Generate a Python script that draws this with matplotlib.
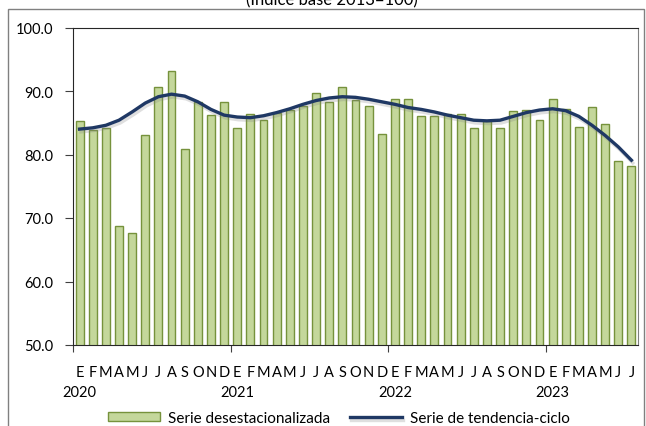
import matplotlib
matplotlib.use("Agg")
import matplotlib.pyplot as plt
import matplotlib.patheffects as pe
from matplotlib.patches import Rectangle

plt.rcParams['font.family'] = ['Lato', 'DejaVu Sans']

meses = ['E', 'F', 'M', 'A', 'M', 'J', 'J', 'A', 'S', 'O', 'N', 'D']
anios = ['2020', '2021', '2022', '2023']

desest = [85.3, 83.8, 84.2, 68.8, 67.7, 83.0, 90.6, 93.2, 80.8, 88.3, 86.2, 88.2,
          84.2, 86.4, 85.4, 86.6, 87.0, 87.7, 89.7, 88.2, 90.6, 88.6, 87.7, 83.2,
          88.8, 88.8, 86.1, 86.1, 86.4, 86.4, 84.2, 85.3, 84.2, 86.9, 87.0, 85.4,
          88.8, 87.2, 84.4, 87.5, 84.8, 79.0, 78.2]

tendencia = [84.0, 84.2, 84.6, 85.4, 86.7, 88.1, 89.1, 89.5, 89.2, 88.3, 87.1, 86.2,
             85.9, 85.8, 86.1, 86.6, 87.2, 87.9, 88.5, 88.9, 89.1, 89.0, 88.7, 88.3,
             87.9, 87.4, 87.1, 86.7, 86.2, 85.8, 85.4, 85.3, 85.4, 86.0, 86.6, 87.0,
             87.2, 86.9, 86.0, 84.6, 83.0, 81.2, 79.1]

n = len(desest)
x = list(range(n))

fig = plt.figure(figsize=(6.46, 4.27), dpi=100)
ax = fig.add_axes([73 / 646, 1 - 346 / 427, 565 / 646, 317.5 / 427])

bars = ax.bar(x, desest, width=0.6, color='#c4d79b', edgecolor='#76923c', linewidth=1,
              label='Serie desestacionalizada', zorder=2)
line, = ax.plot(x, tendencia, color='#1f3864', lw=2.4, solid_joinstyle='round',
                label='Serie de tendencia-ciclo', zorder=3,
                path_effects=[pe.SimpleLineShadow(offset=(1, -2), alpha=0.25, shadow_color='gray'),
                              pe.Normal()])

ax.set_xlim(-0.5, n - 0.5)
ax.set_ylim(50, 100)
ax.set_yticks(range(50, 101, 10))
ax.set_yticklabels([f'{v:.1f}' for v in range(50, 101, 10)])
ax.tick_params(axis='y', length=6, pad=8, labelsize=10.5, color='#404040')

ax.set_xticks([-0.5, 11.5, 23.5, 35.5])
ax.set_xticklabels([])
ax.tick_params(axis='x', length=5, color='#404040')

for s in ['left', 'bottom', 'top']:
    ax.spines[s].set_color('#262626')
ax.spines['right'].set_color('#808080')

for i in x:
    ax.annotate(meses[i % 12], xy=(i, 0), xycoords=('data', 'axes fraction'),
                xytext=(0, -31), textcoords='offset pixels', ha='center', va='baseline',
                fontsize=10.5)
for k, a in enumerate(anios):
    ax.annotate(a, xy=(12 * k, 0), xycoords=('data', 'axes fraction'),
                xytext=(0, -51), textcoords='offset pixels', ha='center', va='baseline',
                fontsize=10.5)

# titulo recortado en el borde superior, como en el original
fig.text(332 / 646, 1 - 4 / 427, '(Índice base 2013=100)', ha='center', va='baseline',
         fontsize=12)

fig.legend([bars, line], ['Serie desestacionalizada', 'Serie de tendencia-ciclo'],
           loc='center', bbox_to_anchor=(339 / 646, 1 - 419 / 427), ncol=2, frameon=False,
           fontsize=11, handlelength=3.4, handleheight=0.6, handletextpad=0.5,
           columnspacing=1.3, borderpad=0, borderaxespad=0)

fig.patches.append(Rectangle((8 / 646, -0.1), 636 / 646, 1.1 - 10 / 427, transform=fig.transFigure,
                             fill=False, edgecolor='#808080', lw=1))

fig.savefig('out.png', dpi=100)
